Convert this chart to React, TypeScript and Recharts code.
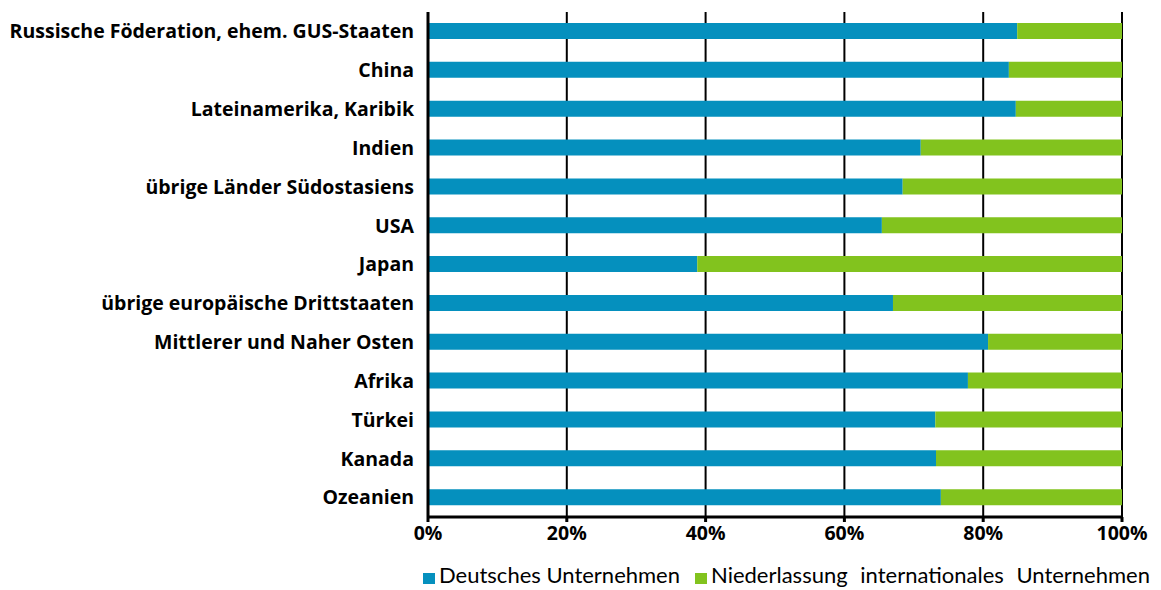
import React from 'react';
import { BarChart, Bar, XAxis, YAxis, CartesianGrid, Legend } from 'recharts';

const categories = [
  'Russische Föderation, ehem. GUS-Staaten',
  'China',
  'Lateinamerika, Karibik',
  'Indien',
  'übrige Länder Südostasiens',
  'USA',
  'Japan',
  'übrige europäische Drittstaaten',
  'Mittlerer und Naher Osten',
  'Afrika',
  'Türkei',
  'Kanada',
  'Ozeanien',
];
const deutsch = [84.9, 83.7, 84.7, 71.0, 68.4, 65.4, 38.8, 67.0, 80.7, 77.8, 73.1, 73.2, 73.9];
const international = deutsch.map((v) => Math.round((100 - v) * 10) / 10);
const xTicks = [0, 20, 40, 60, 80, 100];
const seriesNames = ['Deutsches Unternehmen', 'Niederlassung internationales Unternehmen'];
const colors = ['#0590BE', '#82C31E'];

const data = categories.map((name, i) => ({ name, a: deutsch[i], b: international[i] }));

const LegendContent = () => (
  <div style={{ position: 'relative', height: 40 }}>
    <div
      style={{
        position: 'absolute',
        left: 423,
        top: 12,
        display: 'flex',
        alignItems: 'center',
        fontFamily: 'Lato, sans-serif',
        fontSize: 22,
        lineHeight: '26px',
        color: '#000',
        whiteSpace: 'nowrap',
      }}
    >
      {seriesNames.map((n, i) => (
        <div key={n} style={{ display: 'flex', alignItems: 'center', marginRight: i === 0 ? 15 : 0 }}>
          <span style={{ display: 'inline-block', width: 12, height: 11, background: colors[i], marginRight: 4, marginTop: 6 }} />
          <span style={{ wordSpacing: i === 0 ? 0 : 7 }}>{n}</span>
        </div>
      ))}
    </div>
  </div>
);

const tickFont = { fill: '#000', fontFamily: '"Open Sans", sans-serif', fontWeight: 700, fontSize: 19.5 };

export default function App() {
  return (
    <div style={{ position: 'absolute', left: 0, top: 0, width: 1161, height: 590, background: '#fff' }}>
      <BarChart
        width={1161}
        height={590}
        data={data}
        layout="vertical"
        margin={{ top: 12, right: 39, left: 0, bottom: 0 }}
        barSize={16}
      >
        <CartesianGrid horizontal={false} vertical={true} stroke="#000" strokeWidth={2} strokeOpacity={1} />
        <XAxis
          type="number"
          domain={[0, 100]}
          ticks={xTicks}
          tickFormatter={(v) => `${v}%`}
          height={33}
          axisLine={{ stroke: '#000', strokeWidth: 3 }}
          tickLine={{ stroke: '#000', strokeWidth: 3 }}
          tickSize={5}
          tickMargin={4}
          tick={tickFont}
          interval={0}
        />
        <YAxis
          type="category"
          dataKey="name"
          width={428}
          axisLine={{ stroke: '#000', strokeWidth: 3 }}
          tickLine={false}
          tickSize={0}
          tickMargin={14}
          tick={tickFont}
          interval={0}
        />
        <Legend verticalAlign="bottom" height={40} content={<LegendContent />} />
        <Bar dataKey="a" name={seriesNames[0]} stackId="s" fill={colors[0]} isAnimationActive={false} />
        <Bar dataKey="b" name={seriesNames[1]} stackId="s" fill={colors[1]} isAnimationActive={false} />
      </BarChart>
    </div>
  );
}
